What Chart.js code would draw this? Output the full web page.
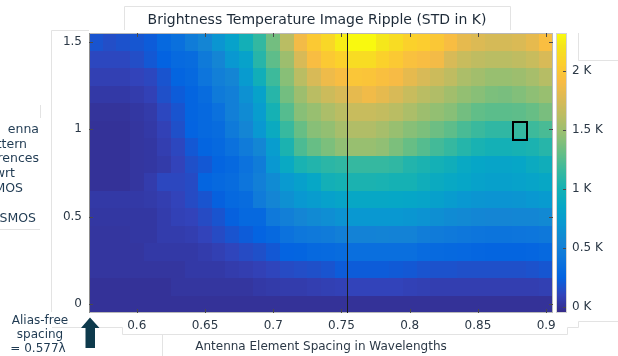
<!DOCTYPE html>
<html>
<head>
<meta charset="utf-8">
<script src="https://cdn.jsdelivr.net/npm/chart.js@4.4.1/dist/chart.umd.min.js"></script>
<style>
    html, body { margin: 0; padding: 0; background: #ffffff; }
    #lienzo { display: block; }
</style>
</head>
<body>
<canvas id="lienzo" width="618" height="356"></canvas>
<script>
// Espaciado entre elementos (en longitudes de onda) y diferencia de diagrama (filas, de arriba a abajo)
const espaciados = [0.57, 0.58, 0.59, 0.60, 0.61, 0.62, 0.63, 0.64, 0.65, 0.66, 0.67, 0.68,
    0.69, 0.70, 0.71, 0.72, 0.73, 0.74, 0.75, 0.76, 0.77, 0.78, 0.79, 0.80,
    0.81, 0.82, 0.83, 0.84, 0.85, 0.86, 0.87, 0.88, 0.89, 0.90];
const diferencias = [1.5, 1.4, 1.3, 1.2, 1.1, 1.0, 0.9, 0.8, 0.7, 0.6, 0.5, 0.4, 0.3, 0.2, 0.1, 0.0];

// Rizado de la imagen (STD en K), una lista por fila
const fila150 = [0.18, 0.15, 0.17, 0.19, 0.22, 0.30, 0.36, 0.47, 0.55, 0.68, 0.80, 0.98, 1.13, 1.35, 1.62, 1.88, 2.02, 2.12, 2.25, 2.31, 2.31, 2.22, 2.15, 2.08, 2.05, 2.00, 1.92, 1.82, 1.77, 1.74, 1.74, 1.76, 1.82, 1.93];
const fila140 = [0.12, 0.12, 0.12, 0.15, 0.20, 0.25, 0.31, 0.33, 0.45, 0.55, 0.70, 0.80, 1.08, 1.28, 1.50, 1.75, 1.92, 2.02, 2.08, 2.15, 2.15, 2.08, 2.02, 1.95, 1.92, 1.88, 1.75, 1.68, 1.64, 1.62, 1.62, 1.64, 1.68, 1.75];
const fila130 = [0.08, 0.08, 0.08, 0.10, 0.12, 0.18, 0.27, 0.30, 0.40, 0.50, 0.55, 0.73, 0.96, 1.17, 1.42, 1.62, 1.75, 1.86, 1.92, 1.99, 1.98, 1.94, 1.90, 1.82, 1.75, 1.70, 1.64, 1.56, 1.52, 1.48, 1.48, 1.50, 1.54, 1.60];
const fila120 = [0.04, 0.04, 0.04, 0.06, 0.09, 0.16, 0.22, 0.27, 0.33, 0.45, 0.50, 0.65, 0.80, 1.08, 1.35, 1.50, 1.62, 1.70, 1.75, 1.82, 1.87, 1.82, 1.75, 1.68, 1.62, 1.58, 1.52, 1.46, 1.42, 1.38, 1.37, 1.40, 1.44, 1.48];
const fila110 = [0.01, 0.01, 0.01, 0.03, 0.05, 0.12, 0.18, 0.27, 0.30, 0.37, 0.50, 0.60, 0.75, 1.00, 1.25, 1.42, 1.48, 1.56, 1.62, 1.68, 1.68, 1.66, 1.62, 1.56, 1.50, 1.46, 1.42, 1.35, 1.29, 1.27, 1.27, 1.28, 1.31, 1.37];
const fila100 = [0.00, 0.00, 0.00, 0.02, 0.04, 0.09, 0.16, 0.26, 0.30, 0.33, 0.45, 0.55, 0.70, 0.90, 1.15, 1.31, 1.42, 1.46, 1.54, 1.58, 1.58, 1.54, 1.48, 1.42, 1.38, 1.33, 1.28, 1.21, 1.16, 1.12, 1.12, 1.14, 1.17, 1.21];
const fila090 = [0.00, 0.00, 0.00, 0.02, 0.03, 0.07, 0.12, 0.20, 0.27, 0.30, 0.37, 0.46, 0.56, 0.75, 1.03, 1.22, 1.31, 1.38, 1.45, 1.48, 1.48, 1.45, 1.38, 1.31, 1.25, 1.19, 1.14, 1.07, 1.02, 0.99, 0.99, 1.01, 1.03, 1.08];
const fila080 = [0.00, 0.00, 0.00, 0.02, 0.03, 0.05, 0.10, 0.16, 0.20, 0.27, 0.30, 0.38, 0.47, 0.70, 0.88, 1.02, 1.06, 1.10, 1.12, 1.14, 1.14, 1.14, 1.12, 1.06, 1.03, 0.99, 0.95, 0.88, 0.84, 0.82, 0.82, 0.84, 0.90, 0.95];
const fila070 = [0.00, 0.00, 0.00, 0.02, 0.06, 0.12, 0.12, 0.14, 0.27, 0.30, 0.33, 0.40, 0.50, 0.60, 0.72, 0.78, 0.85, 0.98, 1.00, 1.03, 1.03, 1.02, 1.00, 1.00, 0.95, 0.90, 0.87, 0.84, 0.80, 0.78, 0.78, 0.80, 0.82, 0.86];
const fila060 = [0.04, 0.04, 0.04, 0.04, 0.05, 0.07, 0.10, 0.14, 0.18, 0.24, 0.30, 0.33, 0.46, 0.55, 0.64, 0.70, 0.74, 0.79, 0.82, 0.86, 0.86, 0.86, 0.85, 0.84, 0.82, 0.78, 0.74, 0.70, 0.68, 0.67, 0.67, 0.68, 0.70, 0.73];
const fila050 = [0.03, 0.03, 0.03, 0.03, 0.03, 0.06, 0.09, 0.10, 0.14, 0.18, 0.24, 0.30, 0.30, 0.44, 0.50, 0.55, 0.59, 0.62, 0.66, 0.70, 0.70, 0.70, 0.70, 0.69, 0.66, 0.63, 0.60, 0.58, 0.56, 0.55, 0.55, 0.56, 0.56, 0.58];
const fila040 = [0.02, 0.02, 0.02, 0.03, 0.03, 0.06, 0.06, 0.07, 0.10, 0.14, 0.18, 0.22, 0.26, 0.30, 0.38, 0.42, 0.44, 0.46, 0.50, 0.52, 0.52, 0.53, 0.52, 0.52, 0.48, 0.46, 0.44, 0.42, 0.40, 0.39, 0.39, 0.40, 0.41, 0.43];
const fila030 = [0.02, 0.02, 0.02, 0.02, 0.04, 0.04, 0.04, 0.04, 0.06, 0.08, 0.11, 0.14, 0.16, 0.20, 0.26, 0.27, 0.30, 0.31, 0.33, 0.35, 0.35, 0.35, 0.35, 0.35, 0.32, 0.31, 0.30, 0.29, 0.28, 0.27, 0.27, 0.27, 0.28, 0.30];
const fila020 = [0.02, 0.02, 0.02, 0.02, 0.02, 0.02, 0.02, 0.04, 0.04, 0.04, 0.06, 0.07, 0.09, 0.11, 0.14, 0.15, 0.16, 0.18, 0.22, 0.22, 0.22, 0.22, 0.21, 0.20, 0.18, 0.17, 0.17, 0.16, 0.16, 0.16, 0.16, 0.16, 0.17, 0.19];
const fila010 = [0.00, 0.00, 0.00, 0.00, 0.00, 0.00, 0.02, 0.02, 0.02, 0.02, 0.02, 0.02, 0.04, 0.05, 0.06, 0.06, 0.07, 0.08, 0.09, 0.10, 0.10, 0.10, 0.10, 0.09, 0.08, 0.07, 0.07, 0.07, 0.07, 0.07, 0.07, 0.07, 0.07, 0.08];
const fila000 = [0.00, 0.00, 0.00, 0.00, 0.00, 0.00, 0.00, 0.00, 0.00, 0.00, 0.00, 0.00, 0.00, 0.00, 0.00, 0.00, 0.00, 0.00, 0.00, 0.00, 0.00, 0.00, 0.00, 0.00, 0.00, 0.00, 0.00, 0.00, 0.00, 0.00, 0.00, 0.00, 0.00, 0.00];
const filas = [fila150, fila140, fila130, fila120, fila110, fila100, fila090, fila080,
    fila070, fila060, fila050, fila040, fila030, fila020, fila010, fila000];

// Marcas de los ejes y de la barra de color
const marcasX = [0.6, 0.65, 0.7, 0.75, 0.8, 0.85, 0.9];
const marcasY = [0, 0.5, 1, 1.5];
const marcasColor = [0, 0.5, 1, 1.5, 2];

// Límites de la escala de color (K), línea vertical y celda resaltada
const colorMin = -0.05;
const colorMax = 2.32;
const espaciadoLinea = 0.754;
const celdaMarcada = { x: 0.88, y: 1.0 };

// Mapa de color parula (muestras cada 4 de 64)
const parula = ['#352a87', '#3243ba', '#0363e1', '#0d75dc', '#1485d4', '#0998d1', '#06a7c6', '#15b1b4',
    '#38b99e', '#65be86', '#92bf73', '#b7bd64', '#d9ba56', '#f8bb44', '#fcce2e', '#f5e41d', '#f9fb0e'];
const parulaPos = [0, 4, 8, 12, 16, 20, 24, 28, 32, 36, 40, 44, 48, 52, 56, 60, 63];

const colorTexto = '#2b3846';
const colorDiapo = '#1f3a52';
const colorBorde = '#e3e3e3';

function hexARgb(h) {
    return [parseInt(h.substr(1, 2), 16), parseInt(h.substr(3, 2), 16), parseInt(h.substr(5, 2), 16)];
}

function colorParula(v) {
    let t = (v - colorMin) / (colorMax - colorMin);
    t = Math.max(0, Math.min(1, t)) * 63;
    let k = 0;
    while (k < parulaPos.length - 2 && parulaPos[k + 1] < t) k++;
    const f = (t - parulaPos[k]) / (parulaPos[k + 1] - parulaPos[k]);
    const a = hexARgb(parula[k]);
    const b = hexARgb(parula[k + 1]);
    const c = a.map((x, i) => Math.round(x + (b[i] - x) * f));
    return 'rgb(' + c.join(',') + ')';
}

// Puntos del mapa a partir de las filas
const puntos = [];
filas.forEach((fila, j) => {
    fila.forEach((v, i) => {
        puntos.push({ x: espaciados[i], y: diferencias[j], v: v });
    });
});

function linea(ctx, x0, y0, x1, y1) {
    ctx.beginPath();
    ctx.moveTo(x0, y0);
    ctx.lineTo(x1, y1);
    ctx.stroke();
}

// Celdas del mapa de calor
const mapaCalor = {
    id: 'mapaCalor',
    beforeDatasetsDraw(chart) {
        const { ctx, scales: { x, y } } = chart;
        const dx = (espaciados[1] - espaciados[0]) / 2;
        const dy = (diferencias[0] - diferencias[1]) / 2;
        ctx.save();
        chart.data.datasets[0].data.forEach(p => {
            const x0 = Math.round(x.getPixelForValue(p.x - dx));
            const x1 = Math.round(x.getPixelForValue(p.x + dx));
            const y0 = Math.round(y.getPixelForValue(p.y + dy));
            const y1 = Math.round(y.getPixelForValue(p.y - dy));
            ctx.fillStyle = colorParula(p.v);
            ctx.fillRect(x0, y0, x1 - x0, y1 - y0);
        });
        ctx.restore();
    },
    afterDatasetsDraw(chart) {
        const { ctx, chartArea: a, scales: { x, y, c } } = chart;
        const dx = (espaciados[1] - espaciados[0]) / 2;
        const dy = (diferencias[0] - diferencias[1]) / 2;
        ctx.save();

        // marco del área de datos
        ctx.strokeStyle = '#b9b9b9';
        ctx.lineWidth = 1;
        ctx.strokeRect(a.left + 0.5, a.top + 0.5, a.right - a.left - 1, a.bottom - a.top - 1);
        ctx.strokeStyle = '#8d8d8d';
        linea(ctx, a.left + 0.5, a.top, a.left + 0.5, a.bottom);

        // marcas hacia dentro
        ctx.strokeStyle = '#4a4a4a';
        x.ticks.forEach(t => {
            const px = Math.round(x.getPixelForValue(t.value)) + 0.5;
            linea(ctx, px, a.bottom, px, a.bottom - 4);
            linea(ctx, px, a.top, px, a.top + 4);
        });
        y.ticks.forEach(t => {
            const py = Math.round(y.getPixelForValue(t.value)) + 0.5;
            linea(ctx, a.left, py, a.left + 4, py);
            linea(ctx, a.right, py, a.right - 4, py);
        });

        // línea vertical
        const lx = Math.round(x.getPixelForValue(espaciadoLinea)) + 0.5;
        ctx.strokeStyle = '#1c1c1c';
        linea(ctx, lx, a.top, lx, a.bottom);

        // celda resaltada
        const bx0 = x.getPixelForValue(celdaMarcada.x - dx);
        const bx1 = x.getPixelForValue(celdaMarcada.x + dx);
        const by0 = y.getPixelForValue(celdaMarcada.y + dy);
        const by1 = y.getPixelForValue(celdaMarcada.y - dy);
        ctx.strokeStyle = '#000000';
        ctx.lineWidth = 2;
        ctx.strokeRect(Math.round(bx0) + 1, Math.round(by0) + 1, Math.round(bx1 - bx0), Math.round(by1 - by0));

        // barra de color
        const cbIzq = a.right + 4;
        const cbAncho = 9;
        for (let py = Math.round(c.top); py < Math.round(c.bottom); py++) {
            ctx.fillStyle = colorParula(c.getValueForPixel(py + 0.5));
            ctx.fillRect(cbIzq, py, cbAncho, 1);
        }
        ctx.lineWidth = 1;
        ctx.strokeStyle = '#d4d4d4';
        ctx.strokeRect(cbIzq - 0.5, c.top + 0.5, cbAncho + 1, c.bottom - c.top - 1);
        ctx.strokeStyle = '#4a4a4a';
        c.ticks.forEach(t => {
            const py = Math.round(c.getPixelForValue(t.value)) + 0.5;
            linea(ctx, cbIzq + cbAncho - 3, py, cbIzq + cbAncho, py);
        });
        ctx.restore();
    }
};

// Textos y elementos de la diapositiva alrededor del gráfico
const anotaciones = {
    id: 'anotaciones',
    afterDraw(chart) {
        const ctx = chart.ctx;
        ctx.save();

        // recuadros de fondo
        ctx.strokeStyle = colorBorde;
        ctx.lineWidth = 1;
        ctx.beginPath();
        ctx.moveTo(124.5, 30); ctx.lineTo(124.5, 6.5); ctx.lineTo(510.5, 6.5); ctx.lineTo(510.5, 30);
        ctx.moveTo(89, 30.5); ctx.lineTo(51.5, 30.5); ctx.lineTo(51.5, 312);
        ctx.moveTo(40.5, 105); ctx.lineTo(40.5, 118);
        ctx.moveTo(0, 229.5); ctx.lineTo(40, 229.5);
        ctx.moveTo(578.5, 33); ctx.lineTo(578.5, 60.5); ctx.lineTo(618, 60.5);
        ctx.moveTo(52, 327.5); ctx.lineTo(122.5, 327.5); ctx.lineTo(122.5, 334.5); ctx.lineTo(567.5, 334.5);
        ctx.lineTo(567.5, 327.5); ctx.lineTo(578.5, 327.5); ctx.lineTo(578.5, 321.5); ctx.lineTo(618, 321.5);
        ctx.moveTo(162.5, 335); ctx.lineTo(162.5, 356);
        ctx.stroke();

        // título
        ctx.fillStyle = '#1d2a38';
        ctx.font = '14px "DejaVu Sans"';
        ctx.textAlign = 'center';
        ctx.textBaseline = 'alphabetic';
        ctx.fillText('Brightness Temperature Image Ripple (STD in K)', 317, 23.5);

        // etiqueta lateral recortada
        ctx.fillStyle = colorDiapo;
        ctx.font = '12.5px "DejaVu Sans"';
        ctx.textAlign = 'right';
        ctx.fillText('enna', 39, 133);
        ctx.fillText('ttern', 27, 147.5);
        ctx.fillText('rences', 39, 162);
        ctx.fillText('wrt', 15, 176.5);
        ctx.fillText('MOS', 23, 191.5);
        ctx.fillText('SMOS', 36, 221.5);

        // espaciado sin aliasing
        ctx.font = '12px "DejaVu Sans"';
        ctx.textAlign = 'center';
        ctx.fillText('Alias-free', 40, 324);
        ctx.fillText('spacing', 40, 338);
        ctx.fillText('= 0.577\u03bb', 38, 352);

        // flecha
        ctx.fillStyle = '#0e3a4c';
        ctx.beginPath();
        ctx.moveTo(90, 317.5);
        ctx.lineTo(99.5, 328);
        ctx.lineTo(95, 328);
        ctx.lineTo(95, 348);
        ctx.lineTo(85.5, 348);
        ctx.lineTo(85.5, 328);
        ctx.lineTo(81, 328);
        ctx.closePath();
        ctx.fill();
        ctx.restore();
    }
};

Chart.defaults.font.family = '"DejaVu Sans", Verdana, sans-serif';
Chart.defaults.font.size = 12;
Chart.defaults.color = colorTexto;

const ctx = document.getElementById('lienzo').getContext('2d');
new Chart(ctx, {
    type: 'scatter',
    data: {
        datasets: [{
            data: puntos,
            pointRadius: 0,
            pointHoverRadius: 0
        }]
    },
    options: {
        responsive: false,
        animation: false,
        devicePixelRatio: 1,
        events: [],
        layout: { padding: { top: 33, left: 0, right: 0, bottom: 0 } },
        plugins: {
            legend: { display: false },
            tooltip: { enabled: false }
        },
        scales: {
            x: {
                type: 'linear',
                position: 'bottom',
                min: 0.565,
                max: 0.905,
                grid: { display: false, drawTicks: false },
                border: { display: false },
                afterBuildTicks: s => { s.ticks = marcasX.map(v => ({ value: v })); },
                afterFit: s => { s.height = 43; },
                ticks: {
                    autoSkip: false,
                    maxRotation: 0,
                    padding: 6,
                    color: colorTexto,
                    callback: v => String(v)
                },
                title: {
                    display: true,
                    text: 'Antenna Element Spacing in Wavelengths',
                    color: colorTexto,
                    font: { size: 12 },
                    padding: { top: 0, bottom: 2 }
                }
            },
            y: {
                type: 'linear',
                position: 'left',
                min: -0.05,
                max: 1.55,
                grid: { display: false, drawTicks: false },
                border: { display: false },
                afterBuildTicks: s => { s.ticks = marcasY.map(v => ({ value: v })); },
                afterFit: s => { s.width = 89; },
                ticks: {
                    padding: 7,
                    color: colorTexto,
                    callback: v => String(v)
                }
            },
            c: {
                type: 'linear',
                axis: 'y',
                position: 'right',
                min: colorMin,
                max: colorMax,
                grid: { display: false, drawTicks: false },
                border: { display: false },
                afterBuildTicks: s => { s.ticks = marcasColor.map(v => ({ value: v })); },
                afterFit: s => { s.width = 65; },
                ticks: {
                    padding: 19,
                    color: colorTexto,
                    callback: v => v + ' K'
                }
            }
        }
    },
    plugins: [mapaCalor, anotaciones]
});
</script>
</body>
</html>
